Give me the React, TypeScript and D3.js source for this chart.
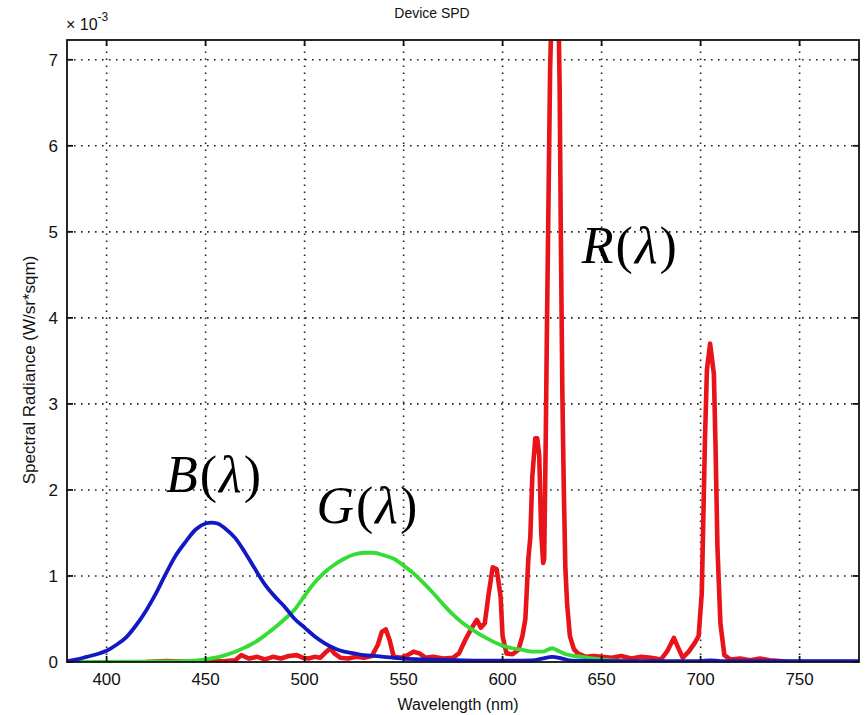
import React from "react";
import * as d3 from "d3";

const xTicks = [400, 450, 500, 550, 600, 650, 700, 750];
const yTicks = [0, 1, 2, 3, 4, 5, 6, 7];

// Spectral radiance (x 10^-3 W/sr*sqm) by wavelength (nm)
const blueSpd: [number, number][] = [
  [380, 0.01], [385, 0.03], [390, 0.06], [395, 0.09], [400, 0.13], [405, 0.2], [410, 0.29],
  [415, 0.43], [420, 0.6], [425, 0.8], [430, 1.03], [435, 1.24], [440, 1.4], [445, 1.54],
  [450, 1.61], [453, 1.62], [456, 1.61], [460, 1.55], [465, 1.44], [470, 1.27], [475, 1.08],
  [480, 0.9], [485, 0.76], [490, 0.64], [495, 0.5], [500, 0.4], [505, 0.3], [510, 0.22],
  [515, 0.16], [520, 0.12], [525, 0.1], [530, 0.08], [535, 0.07], [540, 0.06], [550, 0.04],
  [560, 0.03], [580, 0.02], [600, 0.015], [615, 0.02], [620, 0.04], [625, 0.06], [630, 0.04],
  [635, 0.015], [660, 0.01], [700, 0.01], [705, 0.02], [710, 0.01], [780, 0.01],
];

const greenSpd: [number, number][] = [
  [383, 0.0], [420, 0.005], [440, 0.01], [450, 0.03], [455, 0.05], [460, 0.08], [465, 0.12],
  [470, 0.17], [475, 0.23], [480, 0.31], [485, 0.4], [490, 0.5], [495, 0.61], [500, 0.77],
  [505, 0.92], [510, 1.04], [515, 1.13], [520, 1.2], [525, 1.25], [530, 1.27], [535, 1.27],
  [540, 1.24], [545, 1.2], [550, 1.12], [555, 1.03], [560, 0.92], [565, 0.8], [570, 0.67],
  [575, 0.55], [580, 0.45], [585, 0.37], [590, 0.3], [595, 0.24], [600, 0.19], [605, 0.16],
  [610, 0.14], [615, 0.12], [620, 0.12], [625, 0.16], [628, 0.13], [632, 0.09], [640, 0.06],
  [650, 0.03], [660, 0.01], [670, 0.0],
];

const redSpd: [number, number][] = [
  [420, 0.0], [430, 0.01], [445, 0.0], [460, 0.01], [465, 0.02], [468, 0.08], [472, 0.04],
  [476, 0.06], [480, 0.03], [484, 0.06], [488, 0.04], [492, 0.07], [496, 0.08], [499, 0.05],
  [502, 0.04], [505, 0.06], [508, 0.05], [511, 0.12], [513, 0.16], [515, 0.1], [518, 0.05],
  [522, 0.04], [526, 0.06], [530, 0.05], [534, 0.07], [537, 0.2], [539, 0.35], [541, 0.38],
  [543, 0.25], [545, 0.06], [549, 0.05], [552, 0.08], [555, 0.12], [558, 0.1], [561, 0.05],
  [565, 0.06], [570, 0.04], [575, 0.05], [578, 0.1], [581, 0.25], [584, 0.38], [587, 0.49],
  [589, 0.4], [591, 0.45], [593, 0.8], [595, 1.1], [597, 1.08], [599, 0.76], [600, 0.3],
  [602, 0.1], [605, 0.09], [608, 0.14], [610, 0.3], [611.5, 0.5], [613, 1.2], [614, 1.45],
  [615, 2.15], [616.5, 2.6], [617.5, 2.6], [618.5, 2.4], [619.5, 1.5], [620.5, 1.15],
  [621, 1.2], [621.8, 2.6], [622.4, 3.9], [623.2, 5.4], [624, 6.9], [625, 7.8], [626, 8.0],
  [628, 7.9], [628.8, 6.7], [629.4, 5.0], [630.2, 3.1], [630.9, 2.03], [631.7, 1.09],
  [632.6, 0.67], [634, 0.3], [636, 0.15], [638, 0.1], [642, 0.06], [646, 0.07], [650, 0.06],
  [655, 0.05], [660, 0.07], [665, 0.04], [670, 0.06], [675, 0.05], [680, 0.03], [683, 0.12],
  [686.5, 0.28], [689, 0.15], [691, 0.05], [694, 0.12], [697, 0.22], [699, 0.3], [700.6, 0.8],
  [701.4, 1.69], [702.2, 2.58], [703.2, 3.4], [704.8, 3.7], [706.7, 3.35], [707.6, 2.45],
  [708.5, 1.34], [710, 0.45], [712, 0.08], [715, 0.03], [720, 0.04], [725, 0.02], [730, 0.04],
  [735, 0.02], [740, 0.01], [745, 0.0], [780, 0.0],
];

const labels = [
  { letter: "B", nm: 430, v: 1.98 },
  { letter: "G", nm: 506, v: 1.62 },
  { letter: "R", nm: 640, v: 4.64 },
];

const W = 868;
const H = 715;
const left = 67;
const right = 859;
const top = 40;
const bottom = 662;

export default function App() {
  const x = d3.scaleLinear().domain([380, 780]).range([left, right]);
  const y = d3.scaleLinear().domain([0, 7.23]).range([bottom, top]);
  const line = d3
    .line<[number, number]>()
    .x((d) => x(d[0]))
    .y((d) => y(d[1]));
  const smooth = d3
    .line<[number, number]>()
    .x((d) => x(d[0]))
    .y((d) => y(d[1]))
    .curve(d3.curveMonotoneX);
  const sans = "Arial, 'Liberation Sans', Helvetica, sans-serif";
  const tickLen = 6;
  return (
    <svg
      width={W}
      height={H}
      style={{ position: "absolute", left: 0, top: 0, background: "#fff" }}
    >
      <defs>
        <clipPath id="plotClip">
          <rect x={left} y={top} width={right - left} height={bottom - top} />
        </clipPath>
      </defs>
      <rect x={0} y={0} width={W} height={H} fill="#fff" />
      {/* grid */}
      <g stroke="#222" strokeWidth={1.6} strokeDasharray="1.6 5.4">
        {xTicks.map((t) => (
          <line key={"gx" + t} x1={x(t)} x2={x(t)} y1={bottom} y2={top} />
        ))}
        {yTicks.filter((t) => t > 0).map((t) => (
          <line key={"gy" + t} x1={left} x2={right} y1={y(t)} y2={y(t)} />
        ))}
      </g>
      {/* curves */}
      <g clipPath="url(#plotClip)" fill="none" strokeLinejoin="round">
        <path d={line(redSpd) || ""} stroke="#e8141a" strokeWidth={4.6} />
        <path d={smooth(greenSpd) || ""} stroke="#34dc34" strokeWidth={3.8} />
        <path d={smooth(blueSpd) || ""} stroke="#1219c4" strokeWidth={3.8} />
      </g>
      {/* axes box & ticks */}
      <rect
        x={left}
        y={top}
        width={right - left}
        height={bottom - top}
        fill="none"
        stroke="#111"
        strokeWidth={1.8}
      />
      <g stroke="#111" strokeWidth={1.8}>
        {xTicks.map((t) => (
          <g key={"tx" + t}>
            <line x1={x(t)} x2={x(t)} y1={bottom} y2={bottom - tickLen} />
            <line x1={x(t)} x2={x(t)} y1={top} y2={top + tickLen} />
          </g>
        ))}
        {yTicks.map((t) => (
          <g key={"ty" + t}>
            <line x1={left} x2={left + tickLen} y1={y(t)} y2={y(t)} />
            <line x1={right} x2={right - tickLen} y1={y(t)} y2={y(t)} />
          </g>
        ))}
      </g>
      <g fontFamily={sans} fontSize={17} fill="#111">
        {xTicks.map((t) => (
          <text key={"lx" + t} x={x(t)} y={bottom + 23} textAnchor="middle">
            {t}
          </text>
        ))}
        {yTicks.map((t) => (
          <text key={"ly" + t} x={left - 9} y={y(t) + 6} textAnchor="end">
            {t}
          </text>
        ))}
      </g>
      {/* exponent */}
      <text x={66} y={30} fontFamily={sans} fontSize={16} fill="#111">
        × 10
        <tspan dy={-9} fontSize={12}>
          -3
        </tspan>
      </text>
      <text x={432} y={18} fontFamily={sans} fontSize={14} textAnchor="middle" fill="#111">
        Device SPD
      </text>
      <text x={458} y={710} fontFamily={sans} fontSize={16} textAnchor="middle" fill="#111">
        Wavelength (nm)
      </text>
      <text
        transform="translate(35,370) rotate(-90)"
        fontFamily={sans}
        fontSize={17}
        textAnchor="middle"
        fill="#111"
      >
        Spectral Radiance (W/sr*sqm)
      </text>
      {/* annotations */}
      <g
        fontFamily="'Liberation Serif', 'Times New Roman', serif"
        fontSize={52}
        letterSpacing={2}
        fill="#000"
      >
        {labels.map((l) => (
          <text key={l.letter} x={x(l.nm)} y={y(l.v)}>
            <tspan fontStyle="italic">{l.letter}</tspan>
            <tspan>(</tspan>
            <tspan fontStyle="italic">λ</tspan>
            <tspan>)</tspan>
          </text>
        ))}
      </g>
    </svg>
  );
}
